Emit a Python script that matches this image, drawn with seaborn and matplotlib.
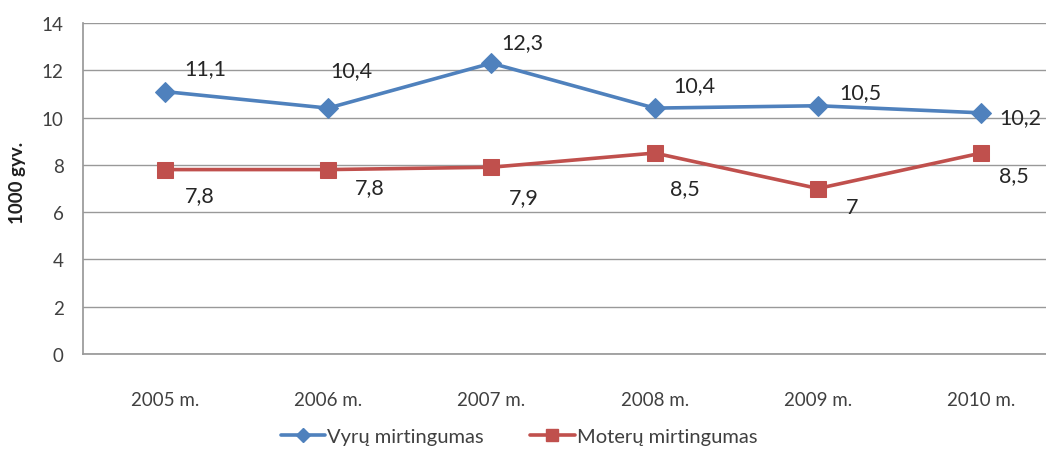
import matplotlib
matplotlib.use("Agg")
import matplotlib.pyplot as plt
import seaborn as sns
import pandas as pd
from matplotlib.lines import Line2D

years = ["2005 m.", "2006 m.", "2007 m.", "2008 m.", "2009 m.", "2010 m."]
men = [11.1, 10.4, 12.3, 10.4, 10.5, 10.2]
women = [7.8, 7.8, 7.9, 8.5, 7.0, 8.5]
men_labels = ["11,1", "10,4", "12,3", "10,4", "10,5", "10,2"]
women_labels = ["7,8", "7,8", "7,9", "8,5", "7", "8,5"]
series_names = ["Vyrų mirtingumas", "Moterų mirtingumas"]
yticks = [0, 2, 4, 6, 8, 10, 12, 14]

# label offsets in pixels (left edge of text, vertical center)
men_off = [(20, 23), (2, 38), (10, 21), (19, 23), (21, 14), (18, -4)]
women_off = [(20, -26), (27, -18), (18, -30), (15, -35), (28, -18), (18, -22)]

sns.set_theme(style="white")
plt.rcParams['font.family'] = ['Lato', 'DejaVu Sans']

BLUE = "#4F81BD"
RED = "#C0504D"
GRID = "#999999"

fig = plt.figure(figsize=(10.46, 4.56), dpi=100)
ax = fig.add_axes([83 / 1046, 101 / 456, (1063 - 83) / 1046, 331 / 456])

df = pd.DataFrame({"year": years * 2, "value": men + women,
                   "series": [series_names[0]] * 6 + [series_names[1]] * 6})

sns.lineplot(data=df[df.series == series_names[0]], x="year", y="value", ax=ax,
             color=BLUE, marker="D", markersize=10, linewidth=2.6,
             markeredgecolor=BLUE, sort=False)
sns.lineplot(data=df[df.series == series_names[1]], x="year", y="value", ax=ax,
             color=RED, marker="s", markersize=11, linewidth=2.6,
             markeredgecolor=RED, sort=False)

ax.set_xlim(-0.5, 5.5)
ax.set_ylim(0, 14)
ax.set_yticks(yticks)
ax.set_yticklabels([str(t) for t in yticks], fontsize=13.5, color="#404040")
ax.set_xticks(range(len(years)))
ax.set_xticklabels(years, fontsize=13.5, color="#404040")
ax.tick_params(axis="x", pad=27, length=0)
ax.tick_params(axis="y", pad=14, length=0)
ax.yaxis.grid(True, color=GRID, linewidth=1)
ax.set_axisbelow(True)
for s in ["top", "right"]:
    ax.spines[s].set_visible(False)
ax.spines["left"].set_color(GRID)
ax.spines["bottom"].set_color(GRID)
ax.set_xlabel("")
ax.set_ylabel("1000 gyv.", fontsize=13.5, fontweight="bold", color="#202020")
ax.yaxis.set_label_coords(-0.058, 0.52)

for i, (v, lab, off) in enumerate(zip(men, men_labels, men_off)):
    ax.annotate(lab, (i, v), xytext=off, textcoords="offset pixels",
                ha="left", va="center", fontsize=15.5, color="#262626")
for i, (v, lab, off) in enumerate(zip(women, women_labels, women_off)):
    ax.annotate(lab, (i, v), xytext=off, textcoords="offset pixels",
                ha="left", va="center", fontsize=15.5, color="#262626")

handles = [Line2D([], [], color=BLUE, marker="D", markersize=7, linewidth=2.6),
           Line2D([], [], color=RED, marker="s", markersize=8, linewidth=2.6)]
fig.legend(handles, series_names, loc="center", bbox_to_anchor=(519 / 1046, 1 - 437 / 456),
           ncol=2, frameon=False, fontsize=14.5, handlelength=2.2, handletextpad=0.1,
           columnspacing=2.3, labelcolor="#404040")

fig.savefig("out.png", dpi=100)
